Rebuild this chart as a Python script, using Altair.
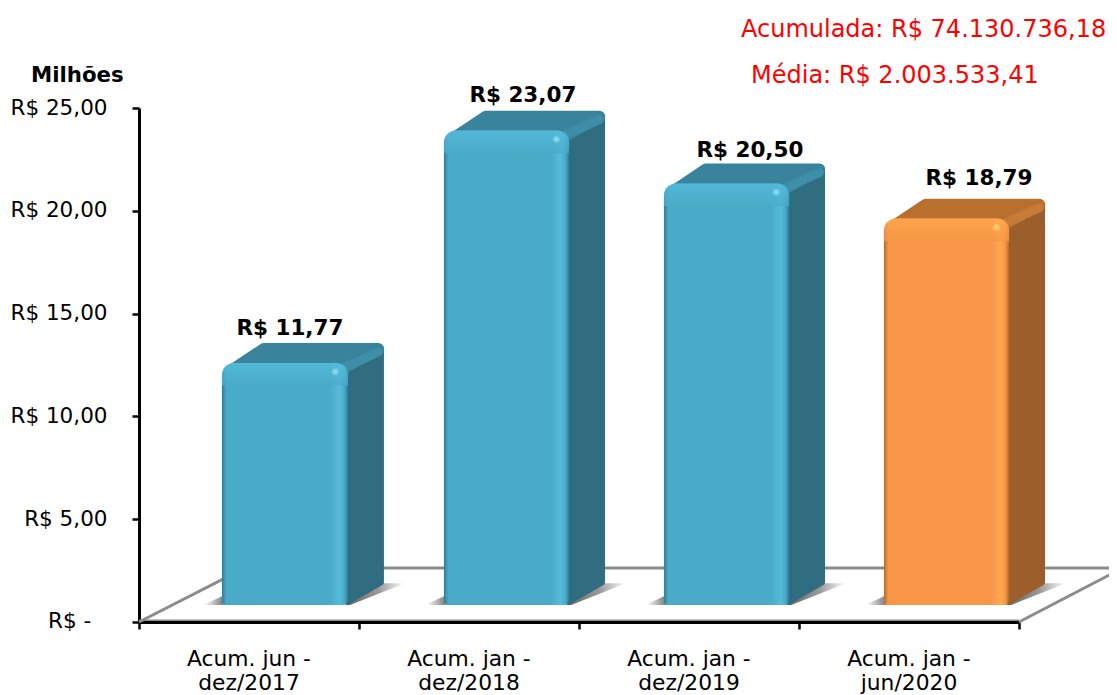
import altair as alt
import pandas as pd

periods = ["Acum. jun -\ndez/2017", "Acum. jan -\ndez/2018", "Acum. jan -\ndez/2019", "Acum. jan -\njun/2020"]
values = [11.77, 23.07, 20.50, 18.79]
value_labels = ["R$ 11,77", "R$ 23,07", "R$ 20,50", "R$ 18,79"]
label_x = [0.686, 1.745, 2.777, 3.818]
label_y = [14.27, 25.6, 22.93, 21.57]
groups = ["hist", "hist", "hist", "cur"]
bar_left = [0.377, 1.386, 2.386, 3.386]
bar_right = [0.95, 1.955, 2.955, 3.955]
palette = {
    "hist": dict(front="#4aabc8", edge="#2c7d97", hi="#55bcdc", side="#306d80", top="#39849c", ridge="#3f8fa8", spot="#9fe8fa"),
    "cur": dict(front="#f79646", edge="#b06c2c", hi="#ffa950", side="#9c5f2b", top="#b9702f", ridge="#c87c38", spot="#ffe08f"),
}
floor_x = [0.0, 0.482, 4.0]
floor_x2 = [0.482, 4.445, 4.445]
floor_y = [0.0, 2.63, 0.0]
floor_y2 = [2.63, 2.63, 2.48]
floor_base_y = [0.09]
annotations = ["Acumulada: R$ 74.130.736,18", "Média: R$ 2.003.533,41"]
zero_label = ["R$ -"]

FONT = "DejaVu Sans"
BASE = 0.83
DX = 0.164
DY = 0.97
IX = 0.027  # corner inset, category units
IY = 0.29   # corner inset, value units
X = alt.X("x:Q", scale=alt.Scale(domain=[0, 4], nice=False, zero=False),
          axis=alt.Axis(values=[0, 1, 2, 3, 4], labels=False, title=None, grid=False, tickSize=7,
                        tickWidth=2.5, tickColor="black", domainColor="black", domainWidth=3))
Y = alt.Y("y:Q", scale=alt.Scale(domain=[0, 25], nice=False, zero=False),
          axis=alt.Axis(values=[0, 5, 10, 15, 20, 25], title=None, grid=False, tickSize=7, tickWidth=2.5,
                        tickColor="black", domainColor="black", domainWidth=3, labelFont=FONT, labelFontSize=21.5,
                        labelColor="black", labelPadding=25,
                        labelExpr="datum.value == 0 ? '' : 'R$ ' + replace(format(datum.value, '.2f'), '.', ',')"))
bars = pd.DataFrame({"bar": range(4), "group": groups, "x": bar_left, "x2": bar_right, "v": values})
bars["y"] = bars.v + BASE
bars["y0"] = BASE


def grad(stops, horizontal=True):
    return alt.Gradient(gradient="linear", x1=0, y1=0, x2=1 if horizontal else 0, y2=0 if horizontal else 1,
                        stops=[alt.GradientStop(color=c, offset=o) for o, c in stops])


floor = pd.DataFrame({"x": floor_x, "x2": floor_x2, "y": floor_y, "y2": floor_y2})
layers = [
    alt.Chart(floor).mark_rule(color="#8c8c8c", strokeWidth=3, clip=False).encode(x=X, x2="x2:Q", y=Y, y2="y2:Q"),
    alt.Chart(pd.DataFrame({"x": [0], "x2": [4], "y": floor_base_y})).mark_rule(color="#8c8c8c", strokeWidth=1.5).encode(
        x=X, x2="x2:Q", y=Y),
]

for g, p in palette.items():
    b = bars[bars.group == g]
    side = pd.concat([
        pd.DataFrame({"bar": b.bar, "x": b.x2 - 0.005, "y": b.y - 0.6, "y2": b.y0 + 0.12}),
        pd.DataFrame({"bar": b.bar, "x": b.x2 + DX - 0.012, "y": b.y + DY - 0.35, "y2": b.y0 + DY + 0.12}),
    ])
    top = pd.concat([
        pd.DataFrame({"bar": b.bar, "y": b.y - 0.3, "x": b.x + 2 * IX, "x2": b.x2 - IX}),
        pd.DataFrame({"bar": b.bar, "y": b.y + DY - IY, "x": b.x + DX + IX, "x2": b.x2 + DX - IX}),
    ])
    ridge = pd.DataFrame({"x": b.x2 - 0.015, "y": b.y - 0.2, "x2": b.x2 + DX - IX, "y2": b.y + DY - 0.45})
    sh_r = pd.concat([
        pd.DataFrame({"bar": b.bar, "y": b.y0, "x": b.x2 - 0.01, "x2": b.x2 + 0.01}),
        pd.DataFrame({"bar": b.bar, "y": b.y0 + 1.05, "x": b.x2 + DX - 0.01, "x2": b.x2 + DX + 0.095}),
    ])
    sh_l = pd.concat([
        pd.DataFrame({"bar": b.bar, "x": b.x - 0.08, "y": b.y0 + 0.02, "y2": b.y0}),
        pd.DataFrame({"bar": b.bar, "x": b.x + 0.005, "y": b.y0 + 0.45, "y2": b.y0}),
    ])
    band = pd.DataFrame({"x": b.x, "x2": b.x2, "y": b.y, "y2": b.y - 1.1})
    spot = pd.DataFrame({"x": b.x2 - 0.058, "y": b.y - 0.42})
    layers += [
        alt.Chart(sh_r).mark_area(orient="horizontal", clip=False,
                                  fill=grad([(0, "#666666"), (0.55, "#999999"), (1, "#ffffff")])).encode(
            y=Y, x=X, x2="x2:Q", detail="bar:N"),
        alt.Chart(sh_l).mark_area(clip=False, fill=grad([(0, "#ffffff"), (1, "#808080")])).encode(
            x=X, y=Y, y2="y2:Q", detail="bar:N"),
        alt.Chart(side).mark_area(clip=False, fill=p["side"], stroke=p["side"], strokeWidth=5, strokeJoin="round").encode(
            x=X, y=Y, y2="y2:Q", detail="bar:N"),
        alt.Chart(top).mark_area(orient="horizontal", clip=False, fill=p["top"], stroke=p["top"], strokeWidth=12,
                                 strokeJoin="round").encode(y=Y, x=X, x2="x2:Q", detail="bar:N"),
        alt.Chart(ridge).mark_rule(color=p["ridge"], strokeWidth=9, strokeCap="round", opacity=0.9, clip=False).encode(
            x=X, x2="x2:Q", y=Y, y2="y2:Q"),
        alt.Chart(b).mark_rect(clip=False, cornerRadiusTopLeft=13, cornerRadiusTopRight=13, cornerRadiusBottomLeft=3,
                               cornerRadiusBottomRight=5,
                               fill=grad([(0, p["edge"]), (0.035, p["front"]), (0.86, p["front"]), (0.93, p["hi"]),
                                          (0.97, p["front"]), (1, p["edge"])])).encode(x=X, x2="x2:Q", y=Y, y2="y0:Q"),
        alt.Chart(band).mark_rect(clip=False, cornerRadiusTopLeft=13, cornerRadiusTopRight=13,
                                  fill=grad([(0, p["hi"]), (1, p["front"])], False),
                                  opacity=0.75).encode(x=X, x2="x2:Q", y=Y, y2="y2:Q"),
        alt.Chart(spot).mark_point(filled=True, size=60, opacity=1, clip=False,
                                   fill=alt.Gradient(gradient="radial",
                                                     stops=[alt.GradientStop(color=p["spot"], offset=0),
                                                            alt.GradientStop(color=p["hi"], offset=1)]),
                                   ).encode(x=X, y=Y),
    ]

lab = pd.DataFrame({"x": label_x, "y": label_y, "t": value_labels})
cats = pd.DataFrame({"x": [i + 0.5 for i in range(4)], "y": [-1.8] * 4, "t": periods})
layers += [
    alt.Chart(lab).mark_text(font=FONT, fontSize=21.5, fontWeight="bold", color="black", clip=False).encode(x=X, y=Y, text="t:N"),
    alt.Chart(cats).mark_text(font=FONT, fontSize=21.8, color="black", lineBreak="\n", lineHeight=24, baseline="middle",
                              clip=False).encode(x=X, y=Y, text="t:N"),
    alt.Chart(pd.DataFrame({"t": zero_label, "y": [0]})).mark_text(font=FONT, fontSize=21.5, color="black", align="left").encode(
        x=alt.value(-91), y=Y, text="t:N"),
    alt.Chart(pd.DataFrame({"t": ["Milhões"]})).mark_text(font=FONT, fontSize=21.3, fontWeight="bold", color="black",
                                                          align="left").encode(x=alt.value(-108), y=alt.value(-32), text="t:N"),
    alt.Chart(pd.DataFrame({"t": annotations[:1]})).mark_text(font=FONT, fontSize=24, color="#ff0000", align="left").encode(
        x=alt.value(602), y=alt.value(-78), text="t:N"),
    alt.Chart(pd.DataFrame({"t": annotations[1:]})).mark_text(font=FONT, fontSize=24, color="#ff0000", align="left").encode(
        x=alt.value(612), y=alt.value(-32), text="t:N"),
]

chart = alt.layer(*layers).properties(
    width=880, height=514,
    padding={"left": 131, "top": 100, "right": 90, "bottom": 73},
    autosize=alt.AutoSizeParams(type="none"),
).configure_view(stroke=None)

chart.save("out.html", embed_options={"renderer": "svg", "actions": False})
